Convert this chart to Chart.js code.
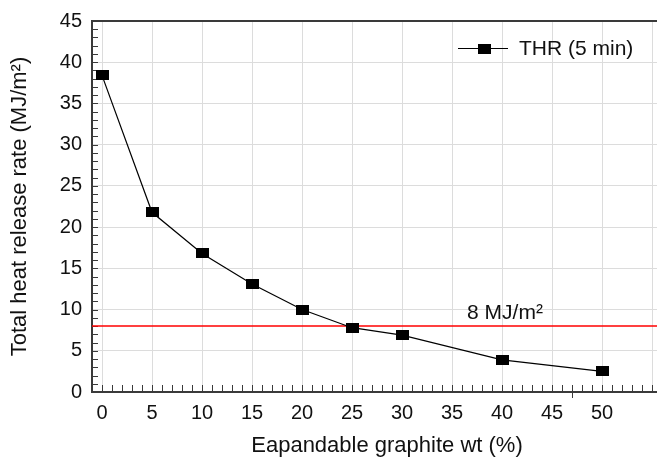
<!DOCTYPE html>
<html>
<head>
<meta charset="utf-8">
<script src="https://cdn.jsdelivr.net/npm/chart.js@4.4.0/dist/chart.umd.min.js"></script>
<style>
  html, body { margin: 0; padding: 0; background: #fff; }
  canvas { display: block; }
</style>
</head>
<body>
<canvas id="thrChart" width="657" height="460"></canvas>
<script>
// THR vs expandable graphite content, with 8 MJ/m2 limit line.

const egContent = [0, 5, 10, 15, 20, 25, 30, 40, 50];
const thrValues = [38.4, 21.8, 16.8, 13.1, 10.0, 7.8, 6.9, 3.9, 2.5];
const xTickValues = [0, 5, 10, 15, 20, 25, 30, 35, 40, 45, 50, 55];
const xTickLabels = ["0", "5", "10", "15", "20", "25", "30", "35", "40", "45", "50", ""];
const yTickLabels = ["0", "5", "10", "15", "20", "25", "30", "35", "40", "45"];
const limitValue = 8;
const limitLabel = "8 MJ/m\u00B2";
const seriesLabel = "THR (5 min)";
const xTitle = "Eapandable graphite wt (%)";
const yTitle = "Total heat release rate (MJ/m\u00B2)";

const FONT = "'Liberation Sans', Arial, Helvetica, sans-serif";
const AXIS_COLOR = "#3a3a3a";
const GRID_COLOR = "#dcdcdc";

Chart.defaults.font.family = FONT;
Chart.defaults.color = "#111";

// wide black rectangle marker
function makeMarker(w, h) {
  const c = document.createElement("canvas");
  c.width = w;
  c.height = h;
  const g = c.getContext("2d");
  g.fillStyle = "#000";
  g.fillRect(0, 0, w, h);
  return c;
}
const marker = makeMarker(13, 10);

// minor ticks on the inside of the bottom and left axes, frame top, limit line
const minorTicks = {
  id: "minorTicks",
  beforeDatasetsDraw(chart) {
    const { ctx, chartArea, scales } = chart;
    const xs = scales.x, ys = scales.y;
    ctx.save();
    ctx.strokeStyle = AXIS_COLOR;
    ctx.lineWidth = 1;
    ctx.beginPath();
    for (let v = 0; v <= 55; v++) {
      const px = Math.round(xs.getPixelForValue(v)) + 0.5;
      ctx.moveTo(px, chartArea.bottom);
      ctx.lineTo(px, chartArea.bottom - 7);
    }
    // odd outward tick in the original
    const p47 = Math.round(xs.getPixelForValue(47)) + 0.5;
    ctx.moveTo(p47, chartArea.bottom);
    ctx.lineTo(p47, chartArea.bottom + 6);
    for (let v = 0; v <= 45; v++) {
      const py = Math.round(ys.getPixelForValue(v)) + 0.5;
      ctx.moveTo(chartArea.left, py);
      ctx.lineTo(chartArea.left + 6, py);
    }
    ctx.stroke();

    ctx.lineWidth = 2;
    ctx.beginPath();
    ctx.moveTo(chartArea.left, chartArea.top);
    ctx.lineTo(chartArea.right, chartArea.top);
    ctx.stroke();

    const ly = ys.getPixelForValue(limitValue);
    ctx.strokeStyle = "#ff0000";
    ctx.lineWidth = 1.5;
    ctx.beginPath();
    ctx.moveTo(chartArea.left, ly);
    ctx.lineTo(chartArea.right, ly);
    ctx.stroke();
    ctx.fillStyle = "#111";
    ctx.font = "21px " + FONT;
    ctx.textAlign = "center";
    ctx.textBaseline = "alphabetic";
    ctx.fillText(limitLabel, xs.getPixelForValue(40.3), ly - 7);

    // x axis title, sitting a little right of centre as in the original
    ctx.font = "22px " + FONT;
    ctx.textBaseline = "middle";
    ctx.fillText(xTitle, (chartArea.left + chartArea.right) / 2 + 12.5, 445.5);
    ctx.restore();
  }
};

// legend drawn as line + marker + text inside plot
const innerLegend = {
  id: "innerLegend",
  afterDraw(chart) {
    const { ctx } = chart;
    const y = 48.5;
    ctx.save();
    ctx.strokeStyle = "#000";
    ctx.lineWidth = 1;
    ctx.beginPath();
    ctx.moveTo(458, y);
    ctx.lineTo(508, y);
    ctx.stroke();
    ctx.drawImage(marker, 484 - 6.5, y - 5);
    ctx.fillStyle = "#111";
    ctx.font = "21px " + FONT;
    ctx.textAlign = "left";
    ctx.textBaseline = "middle";
    ctx.fillText(chart.data.datasets[0].label, 519, y + 1);
    ctx.restore();
  }
};

new Chart(document.getElementById("thrChart"), {
  type: "line",
  data: {
    datasets: [{
      label: seriesLabel,
      data: egContent.map((x, i) => ({ x, y: thrValues[i] })),
      borderColor: "#000",
      borderWidth: 1.2,
      pointStyle: marker,
      pointRadius: 6,
      tension: 0,
      fill: false
    }]
  },
  options: {
    responsive: false,
    animation: false,
    layout: { autoPadding: false, padding: { top: 21, right: 0, left: 0, bottom: 0 } },
    plugins: {
      legend: { display: false },
      tooltip: { enabled: false }
    },
    scales: {
      x: {
        type: "linear",
        min: -1,
        max: 55.5,
        afterBuildTicks(scale) {
          scale.ticks = xTickValues.map(v => ({ value: v }));
        },
        afterFit(scale) {
          scale.height = 68;
          scale.paddingLeft = 0;
          scale.paddingRight = 0;
        },
        ticks: {
          font: { size: 20 },
          padding: 9,
          maxRotation: 0,
          autoSkip: false,
          callback: (v, i) => xTickLabels[i]
        },
        grid: { color: GRID_COLOR, lineWidth: 1, drawTicks: false },
        border: { display: true, color: AXIS_COLOR, width: 2 },
        title: { display: false }
      },
      y: {
        min: 0,
        max: 45,
        ticks: {
          stepSize: 5,
          font: { size: 20 },
          padding: 10,
          callback: (v, i) => yTickLabels[i]
        },
        afterFit(scale) {
          scale.width = 92;
          scale.paddingTop = 0;
          scale.paddingBottom = 0;
        },
        grid: {
          color: ctx => (ctx.tick && (ctx.tick.value === 45 || ctx.tick.value === 0)) ? "rgba(0,0,0,0)" : GRID_COLOR,
          lineWidth: 1,
          drawTicks: false
        },
        border: { display: true, color: AXIS_COLOR, width: 2 },
        title: {
          display: true,
          text: yTitle,
          font: { size: 22 },
          padding: { top: 7, bottom: 0 }
        }
      }
    }
  },
  plugins: [minorTicks, innerLegend]
});
</script>
</body>
</html>
